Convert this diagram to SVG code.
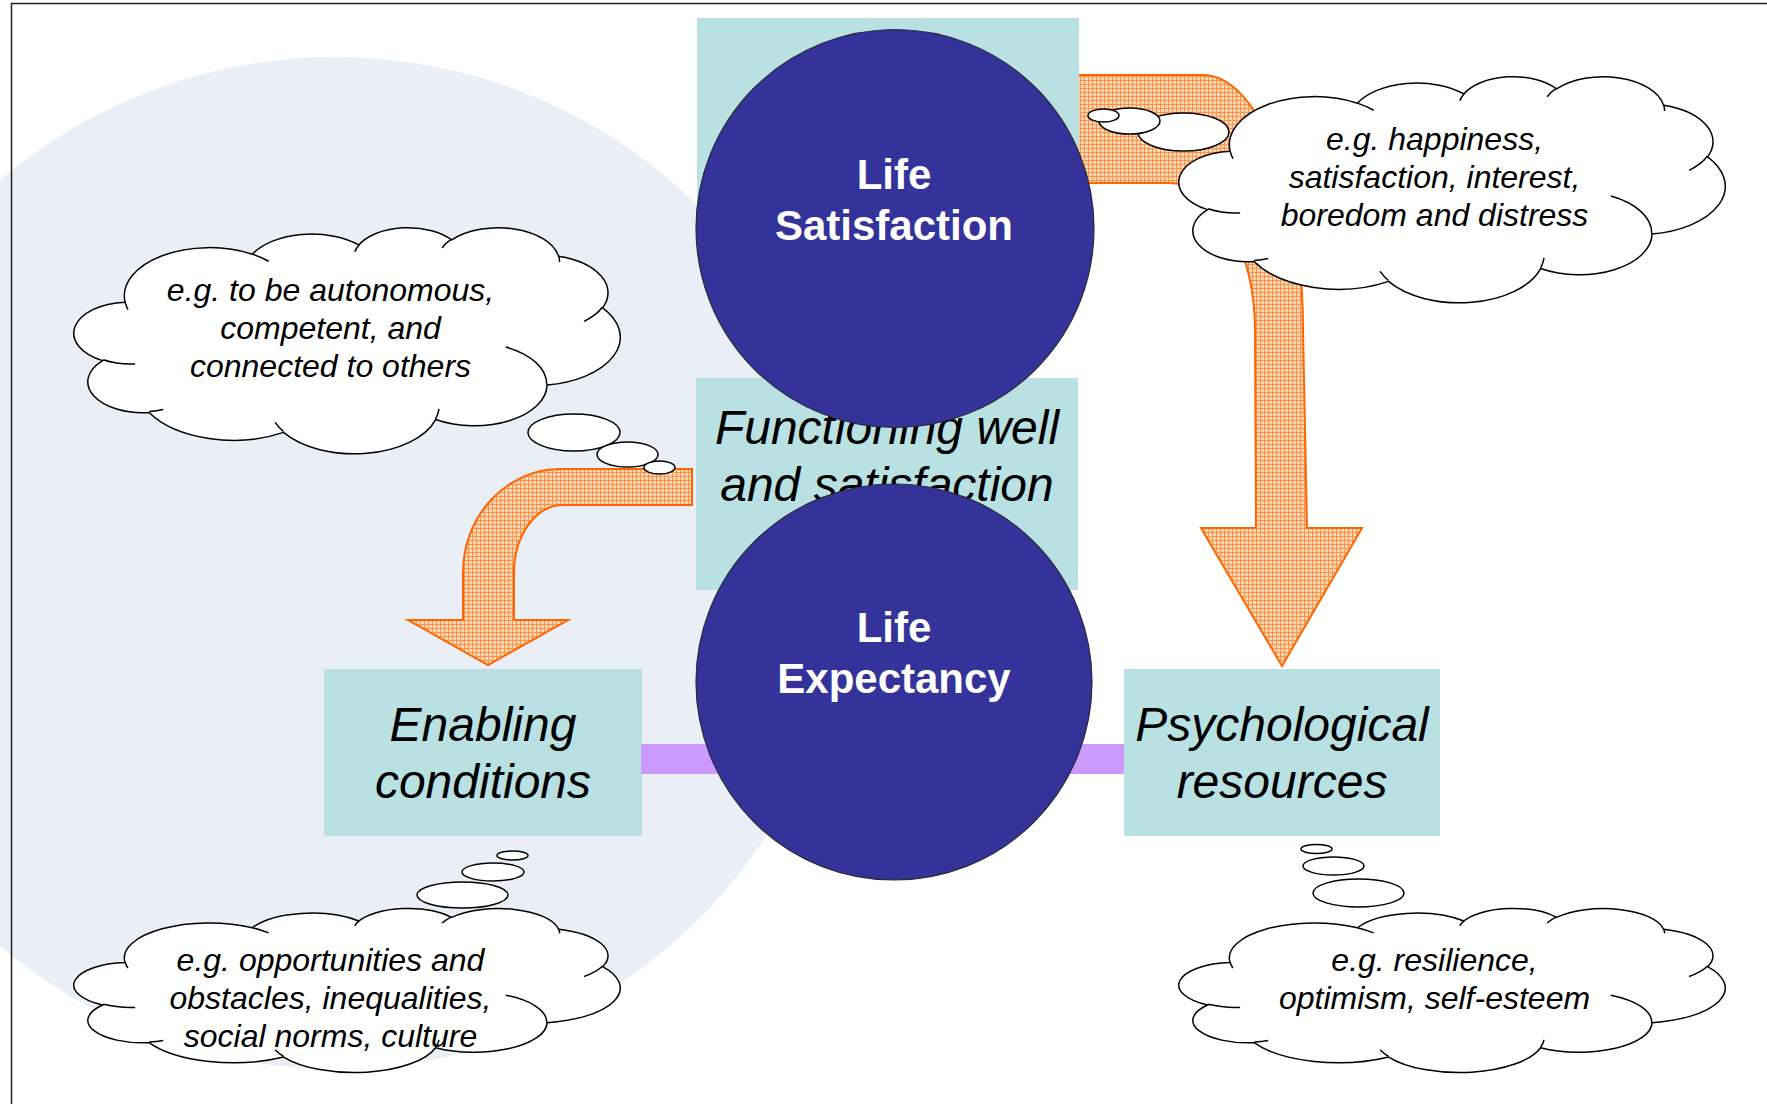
<svg xmlns="http://www.w3.org/2000/svg" xmlns:xlink="http://www.w3.org/1999/xlink" width="1767" height="1104" viewBox="0 0 1767 1104">
<style>
.teal{fill:#B9E0E3}
.disc{fill:#333399;stroke:#2a2a3a;stroke-width:1.2}
.ctext{font-family:"Liberation Sans",Arial,sans-serif;font-weight:bold;font-size:42px;fill:#FFFFFF;text-anchor:middle}
.btext{font-family:"Liberation Sans",Arial,sans-serif;font-style:italic;font-size:48px;fill:#000000;text-anchor:middle}
.ttext{font-family:"Liberation Sans",Arial,sans-serif;font-style:italic;font-size:32px;fill:#000000;text-anchor:middle}
.bub{fill:#FFFFFF;stroke:#000000;stroke-width:1.5}
.arrow{fill:url(#grid);stroke:#FF6600;stroke-width:2;stroke-linejoin:miter}
</style>
<defs>
<pattern id="grid" width="4" height="4" patternUnits="userSpaceOnUse">
<rect width="4" height="4" fill="#FFD8B6"/>
<path d="M0 0.5H4M0.5 0V4" stroke="#FF9048" stroke-width="1"/>
</pattern>
<path id="cloudShape" fill="#FFFFFF" stroke="#000000" stroke-width="1.5" vector-effect="non-scaling-stroke" d="M3900 14370A6753 9190 0 0 1 14006 5202A5333 7267 0 0 1 22458 3428A4365 5945 0 0 1 29833 2474A4857 6595 0 0 1 38319 5569A5333 7273 0 0 1 41819 15452A6775 9220 0 0 1 37406 30196A5785 7867 0 0 1 28557 36806A6752 9215 0 0 1 16482 39259A7720 10543 0 0 1 5806 35466A4360 5918 0 0 1 2115 25543A4345 5945 0 0 1 3900 14370Z"/>
<path id="cloudCrease" fill="none" stroke="#000000" stroke-width="1.5" vector-effect="non-scaling-stroke" d="M4693 26177A4345 5945 0 0 1 2159 25380M6928 34899A4360 5918 0 0 1 5820 35280M16478 39090A6752 9215 0 0 1 15810 37349M28827 34751A6752 9215 0 0 1 28561 36659M34129 22954A5785 7867 0 0 1 37380 30090M41798 15354A5333 7273 0 0 1 40350 18030M38324 5426A4857 6595 0 0 1 38400 6690M29078 3952A4857 6595 0 0 1 29820 2340M22141 4720A4365 5945 0 0 1 22500 3330M14000 5192A6753 9190 0 0 1 15300 6541M4127 15789A6753 9190 0 0 1 3900 14372"/>
</defs>

<rect width="1767" height="1104" fill="#FFFFFF"/>
<ellipse id="background-disc" cx="335" cy="563" rx="512" ry="506" fill="#EAEFF7"/>
<path id="frame" d="M11.5 1104V3.5H1767" fill="none" stroke="#222222" stroke-width="1.5"/>

<g id="enabling-conditions">
<rect class="teal" x="324" y="669" width="318" height="167"/>
<text class="btext" x="483" y="741">Enabling</text>
<text class="btext" x="483" y="798">conditions</text>
</g>

<g id="psychological-resources">
<rect class="teal" x="1124" y="669" width="316" height="167"/>
<text class="btext" x="1282" y="741">Psychological</text>
<text class="btext" x="1282" y="798">resources</text>
</g>

<g id="functioning-well">
<rect class="teal" x="696" y="378" width="382" height="212"/>
<text class="btext" x="887" y="444">Functioning well</text>
<text class="btext" x="887" y="501">and satisfaction</text>
</g>

<g id="connectors">
<rect x="641" y="744" width="483" height="30" fill="#CC99FF"/>
<path class="arrow" d="M692 469L560 469A97 104 0 0 0 463 573L463 620L408 620L488 665L568 620L514 620L514 573A49 68 0 0 1 563 505L692 505Z"/>
<path class="arrow" d="M1078 75L1203 75A100 255 0 0 1 1303 330L1307 528L1362 528L1282 666L1201 528L1256 528L1255 330A85 147 0 0 0 1170 183L1078 183Z"/>
</g>

<g id="life-satisfaction">
<rect class="teal" x="697" y="18" width="382" height="210"/>
<circle class="disc" cx="895" cy="228.5" r="199"/>
<text class="ctext" x="894" y="189">Life</text>
<text class="ctext" x="894" y="240">Satisfaction</text>
</g>

<g id="life-expectancy">
<circle class="disc" cx="894" cy="682" r="198"/>
<text class="ctext" x="894" y="642">Life</text>
<text class="ctext" x="894" y="693">Expectancy</text>
</g>

<g id="cloud-needs">
<g transform="translate(76,227) scale(0.0125926,0.0052315)">
<use xlink:href="#cloudShape"/>
<use xlink:href="#cloudCrease"/>
</g>
<ellipse class="bub" cx="574" cy="432.5" rx="46" ry="18.5"/>
<ellipse class="bub" cx="627.5" cy="454.5" rx="30.5" ry="12.5"/>
<ellipse class="bub" cx="659.5" cy="467.5" rx="15.5" ry="6.5"/>
<text class="ttext" x="330.5" y="301">e.g. to be autonomous,</text>
<text class="ttext" x="330.5" y="339">competent, and</text>
<text class="ttext" x="330.5" y="377">connected to others</text>
</g>

<g id="cloud-feelings">
<g transform="translate(1181,76) scale(0.0125926,0.0052315)">
<use xlink:href="#cloudShape"/>
<use xlink:href="#cloudCrease"/>
</g>
<ellipse class="bub" cx="1183.5" cy="132" rx="45.5" ry="19"/>
<ellipse class="bub" cx="1129.5" cy="121" rx="30.5" ry="13"/>
<ellipse class="bub" cx="1103.5" cy="115.5" rx="15.5" ry="6.5"/>
<text class="ttext" x="1434.5" y="150">e.g. happiness,</text>
<text class="ttext" x="1434.5" y="188">satisfaction, interest,</text>
<text class="ttext" x="1434.5" y="226">boredom and distress</text>
</g>

<g id="cloud-conditions">
<g transform="translate(76,908) scale(0.0125926,0.0037963)">
<use xlink:href="#cloudShape"/>
<use xlink:href="#cloudCrease"/>
</g>
<ellipse class="bub" cx="462.5" cy="895" rx="45.5" ry="13"/>
<ellipse class="bub" cx="493" cy="872" rx="31" ry="9"/>
<ellipse class="bub" cx="512.5" cy="855.5" rx="15.5" ry="4.5"/>
<text class="ttext" x="330.5" y="971">e.g. opportunities and</text>
<text class="ttext" x="330.5" y="1009">obstacles, inequalities,</text>
<text class="ttext" x="330.5" y="1047">social norms, culture</text>
</g>

<g id="cloud-resources">
<g transform="translate(1181,908) scale(0.0125926,0.0037963)">
<use xlink:href="#cloudShape"/>
<use xlink:href="#cloudCrease"/>
</g>
<ellipse class="bub" cx="1358.5" cy="893" rx="45.5" ry="14"/>
<ellipse class="bub" cx="1333.5" cy="866" rx="30.5" ry="9"/>
<ellipse class="bub" cx="1316.5" cy="849" rx="15.5" ry="4.5"/>
<text class="ttext" x="1434.5" y="971">e.g. resilience,</text>
<text class="ttext" x="1434.5" y="1009">optimism, self-esteem</text>
</g>
</svg>
